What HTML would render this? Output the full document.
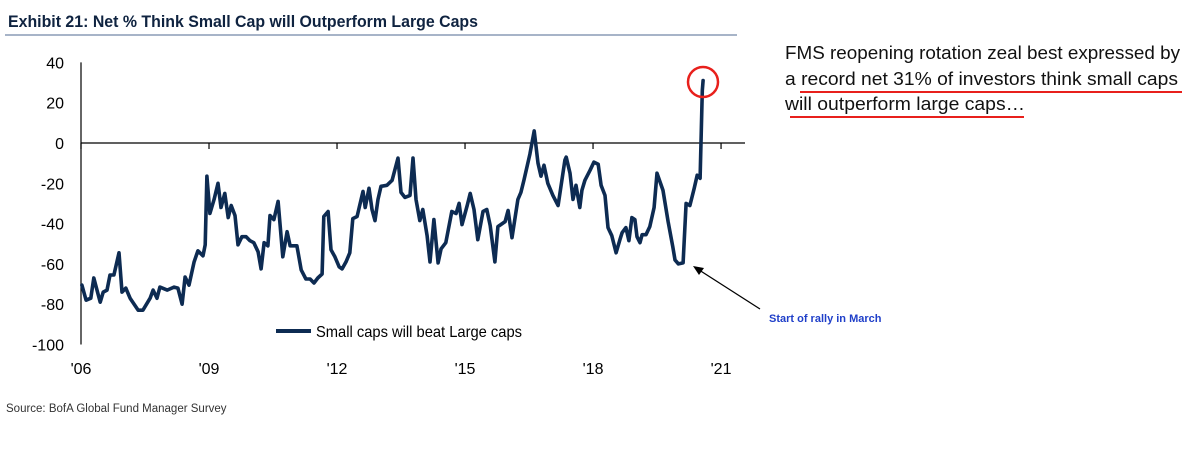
<!DOCTYPE html>
<html><head><meta charset="utf-8"><style>
html,body{margin:0;padding:0;background:#fff;}
svg{display:block;font-family:"Liberation Sans",sans-serif;}
</style></head><body>
<svg id="chart" width="1200" height="450" viewBox="0 0 1200 450" xmlns="http://www.w3.org/2000/svg">
<text x="8" y="27" font-size="17" font-weight="bold" fill="#0f2340" textLength="470" lengthAdjust="spacingAndGlyphs">Exhibit 21: Net % Think Small Cap will Outperform Large Caps</text>
<line x1="5" y1="35" x2="737" y2="35" stroke="#8a9bb5" stroke-width="1.5"/>
<g id="axes"></g>
<g id="series"></g>
<g>
<line x1="276" y1="331" x2="311" y2="331" stroke="#0d2b52" stroke-width="4"/>
<text x="316" y="337" font-size="16" fill="#000" textLength="206" lengthAdjust="spacingAndGlyphs">Small caps will beat Large caps</text>
</g>
<circle cx="703" cy="82" r="15" fill="none" stroke="#e8201c" stroke-width="2.5"/>
<g>
<line x1="760" y1="309" x2="696" y2="268" stroke="#000" stroke-width="1.3"/>
<polygon points="693,266 704,268 699,275" fill="#000"/>
</g>
<text x="769" y="322" font-size="11" font-weight="bold" fill="#1f3fc9">Start of rally in March</text>
<g font-size="18" fill="#111">
<text x="785" y="59" textLength="395" lengthAdjust="spacingAndGlyphs">FMS reopening rotation zeal best expressed by</text>
<text x="785" y="85" textLength="393" lengthAdjust="spacingAndGlyphs">a record net 31% of investors think small caps</text>
<text x="785" y="110" textLength="240" lengthAdjust="spacingAndGlyphs">will outperform large caps…</text>
<line x1="800" y1="92" x2="1182" y2="92" stroke="#e8201c" stroke-width="2"/>
<line x1="790" y1="117" x2="1024" y2="117" stroke="#e8201c" stroke-width="2"/>
</g>
<text x="6" y="412" font-size="11.5" fill="#333">Source: BofA Global Fund Manager Survey</text>
</svg>
<script>
const dates=[2006.02,2006.12,2006.23,2006.30,2006.45,2006.52,2006.61,2006.68,2006.77,2006.89,2006.96,2007.05,2007.15,2007.34,2007.45,2007.62,2007.69,2007.78,2007.85,2008.02,2008.18,2008.27,2008.37,2008.44,2008.53,2008.65,2008.74,2008.86,2008.91,2008.95,2009.02,2009.12,2009.21,2009.28,2009.37,2009.45,2009.52,2009.61,2009.68,2009.77,2009.87,2009.96,2010.05,2010.15,2010.22,2010.29,2010.38,2010.43,2010.52,2010.62,2010.73,2010.83,2010.90,2011.06,2011.16,2011.27,2011.37,2011.46,2011.55,2011.65,2011.69,2011.79,2011.86,2011.95,2012.05,2012.12,2012.21,2012.30,2012.37,2012.47,2012.52,2012.61,2012.66,2012.75,2012.82,2012.89,2012.96,2013.03,2013.17,2013.29,2013.43,2013.50,2013.59,2013.71,2013.78,2013.85,2013.94,2014.01,2014.11,2014.18,2014.27,2014.37,2014.44,2014.55,2014.69,2014.79,2014.86,2014.93,2015.05,2015.12,2015.21,2015.30,2015.42,2015.51,2015.59,2015.70,2015.77,2015.94,2016.01,2016.10,2016.24,2016.31,2016.38,2016.52,2016.62,2016.71,2016.78,2016.85,2016.94,2017.06,2017.18,2017.34,2017.37,2017.46,2017.53,2017.60,2017.69,2017.74,2017.81,2017.93,2018.02,2018.12,2018.19,2018.28,2018.35,2018.44,2018.54,2018.63,2018.68,2018.77,2018.84,2018.91,2018.98,2019.03,2019.10,2019.15,2019.24,2019.33,2019.43,2019.50,2019.64,2019.76,2019.87,2019.92,2020.00,2020.11,2020.18,2020.27,2020.37,2020.44,2020.51,2020.56,2020.58];
const values=[-70.5,-78,-77,-67,-79,-74,-73,-65.5,-65.5,-54.5,-74,-72,-77,-83,-83,-77,-73,-77,-71.5,-73,-71.5,-72,-80,-66.5,-70.5,-59,-53.5,-56,-50.5,-16.5,-35,-28,-20,-32,-25,-37,-31,-36,-50.5,-46.5,-46.5,-48.5,-49.5,-54,-62.5,-49.5,-51,-36,-38,-29,-56.5,-44,-51,-51,-63,-67.5,-67.5,-69.5,-67,-65,-36.5,-34,-53,-56.5,-61.5,-62.5,-59,-54.5,-37.5,-36.5,-32,-24,-32,-22.5,-33,-38.5,-28,-21.5,-21,-18.5,-7.5,-24.5,-27,-26,-7.5,-28,-38.5,-33,-46,-59,-38,-59.5,-52.5,-49.5,-34,-35,-30,-40.5,-31,-25,-33,-48,-34,-33,-41,-59,-41.5,-39,-33.5,-47,-28,-24.5,-18.5,-5.5,6,-10,-16.5,-11,-20,-26,-31,-8.5,-7,-15,-28,-21,-32,-23.5,-18.5,-13.5,-9.5,-10.5,-21,-26,-42,-46,-54.5,-48,-44.5,-42,-48.5,-37,-38,-46.5,-49.5,-45.5,-45.5,-41.5,-32,-15,-23.5,-39,-51.5,-58,-60,-59.5,-30,-31,-22.5,-16,-17.5,26,31];
const yTicks=[40,20,0,-20,-40,-60,-80,-100];
const xTickYears=[2006,2009,2012,2015,2018,2021];
const xTickLabels=["'06","'09","'12","'15","'18","'21"];

const NS="http://www.w3.org/2000/svg";
const X0=81,PXY=42.67,Y0=143,PXV=2.015;
function xs(t){return X0+(t-2006)*PXY;}
function ys(v){return Y0-v*PXV;}
function mk(tag,attrs,parent){const e=document.createElementNS(NS,tag);for(const k in attrs)e.setAttribute(k,attrs[k]);parent.appendChild(e);return e;}
const axes=document.getElementById('axes');
const ya=mk('line',{x1:X0,y1:ys(40),x2:X0,y2:ys(-100),stroke:'#000','stroke-width':1.2},axes);


const xa=mk('line',{x1:X0,y1:ys(0),x2:745,y2:ys(0),stroke:'#000','stroke-width':1.2},axes);


yTicks.forEach(v=>{
  const t=mk('text',{x:X0-17,y:ys(v)+6,'font-size':16,'text-anchor':'end',fill:'#000'},axes);
  t.textContent=v;
  
  
});
xTickYears.forEach((yr,i)=>{
  const tk=mk('line',{x1:xs(yr),y1:ys(0),x2:xs(yr),y2:ys(0)+6,stroke:'#000','stroke-width':1.2},axes);
  
  
  const t=mk('text',{x:xs(yr),y:374,'font-size':16,'text-anchor':'middle',fill:'#000'},axes);
  t.textContent=xTickLabels[i];
  
  
});
const d=dates.map((t,i)=>(i?'L':'M')+xs(t).toFixed(1)+' '+ys(values[i]).toFixed(1)).join(' ');
const p=mk('path',{d:d,fill:'none',stroke:'#0d2b52','stroke-width':3.6,'stroke-linejoin':'round','stroke-linecap':'round'},document.getElementById('series'));


</script>
</body></html>
